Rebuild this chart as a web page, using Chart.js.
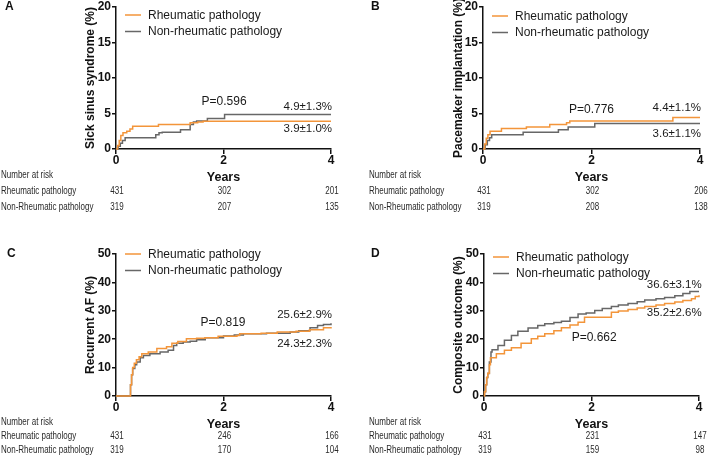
<!DOCTYPE html>
<html>
<head>
<meta charset="utf-8">
<script src="https://cdn.jsdelivr.net/npm/chart.js@4.4.1/dist/chart.umd.min.js"></script>
<style>
  body { margin: 0; background: #fff; width: 709px; height: 456px; position: relative; overflow: hidden; }
  canvas { position: absolute; }
</style>
</head>
<body>
<canvas id="chartA" width="350" height="215" style="left:0;top:0"></canvas>
<canvas id="chartB" width="359" height="215" style="left:350px;top:0"></canvas>
<canvas id="chartC" width="350" height="209" style="left:0;top:247px"></canvas>
<canvas id="chartD" width="359" height="209" style="left:350px;top:247px"></canvas>
<script>
// legend / risk table labels
const legendLabels = ["Rheumatic pathology", "Non-rheumatic pathology"];
const riskRowLabels = ["Rheumatic pathology", "Non-Rheumatic pathology"];
const riskHeader = "Number at risk";
const riskYears = [0, 2, 4];

// A - sick sinus syndrome
const sssTimeRheum = [0, 0.03, 0.06, 0.09, 0.13, 0.2, 0.26, 0.31, 0.79, 1.38, 1.52, 1.62, 4];
const sssRheum     = [0, 0.5, 1.2, 1.9, 2.3, 2.5, 2.8, 3.2, 3.45, 3.7, 3.8, 3.9, 3.9];
const sssTimeNon   = [0, 0.04, 0.08, 0.12, 0.17, 0.74, 0.8, 0.86, 1.2, 1.38, 1.44, 1.5, 1.7, 2.02, 4];
const sssNon       = [0, 0.4, 0.8, 1.2, 1.6, 2.0, 2.3, 2.35, 2.7, 3.45, 3.8, 3.95, 4.3, 4.85, 4.85];
const riskRheumA = [431, 302, 201];
const riskNonA   = [319, 207, 135];

// B - pacemaker implantation
const pmTimeRheum = [0, 0.03, 0.06, 0.09, 0.13, 0.34, 0.8, 1.23, 1.54, 1.6, 3.5, 4];
const pmRheum     = [0, 0.7, 1.5, 2.0, 2.5, 2.9, 3.1, 3.45, 3.7, 3.95, 4.45, 4.45];
const pmTimeNon   = [0, 0.04, 0.08, 0.12, 0.16, 0.74, 1.39, 1.57, 2.06, 4];
const pmNon       = [0, 0.6, 1.2, 1.6, 2.0, 2.35, 2.7, 3.1, 3.6, 3.6];
const riskRheumB = [431, 302, 206];
const riskNonB   = [319, 208, 138];

// C - recurrent AF
const afTimeRheum = [0, 0.25, 0.27, 0.29, 0.31, 0.34, 0.38, 0.43, 0.48, 0.6, 0.76, 0.94, 1.04, 1.15, 1.31, 1.5, 1.66, 1.9, 2.25, 2.3, 2.7, 3.0, 3.35, 3.6, 3.86, 4];
const afRheum     = [0, 0, 4, 7.5, 10, 11.5, 12.8, 13.8, 14.9, 15.5, 16.7, 17.3, 18.6, 19.2, 20.2, 20.3, 20.5, 21.0, 21.3, 21.9, 22.1, 22.5, 22.8, 23.3, 24.0, 24.3];
const afTimeNon   = [0, 0.25, 0.27, 0.29, 0.31, 0.35, 0.385, 0.45, 0.51, 0.63, 0.82, 0.97, 1.07, 1.13, 1.25, 1.38, 1.5, 1.66, 2.0, 2.2, 2.37, 2.8, 3.24, 3.4, 3.61, 3.75, 3.86, 4];
const afNon       = [0, 0, 4, 7.5, 9.7, 11, 12, 13.5, 14.3, 14.9, 15.5, 16.1, 17.8, 18.6, 19.0, 19.3, 19.8, 20.5, 21.1, 21.5, 21.9, 22.1, 22.5, 23.0, 24.0, 24.8, 25.2, 25.6];
const riskRheumC = [431, 246, 166];
const riskNonC   = [319, 170, 104];

// D - composite outcome
const coTimeRheum = [0, 0.01, 0.03, 0.05, 0.07, 0.1, 0.12, 0.23, 0.38, 0.51, 0.69, 0.88, 1.0, 1.13, 1.3, 1.44, 1.6, 1.75, 1.87, 2.24, 2.37, 2.5, 2.68, 2.85, 2.99, 3.2, 3.36, 3.55, 3.7, 3.86, 3.93, 4];
const coRheum     = [0, 1.5, 4, 6.5, 8, 11, 13.5, 14.9, 16.1, 17, 18.6, 20.2, 21, 21.9, 23, 24, 25, 26, 27.7, 27.7, 29.5, 29.9, 30.5, 31, 31.5, 32, 32.6, 33.1, 33.6, 34.2, 35.0, 35.5];
const coTimeNon   = [0, 0.01, 0.03, 0.05, 0.07, 0.1, 0.13, 0.15, 0.26, 0.38, 0.51, 0.63, 0.82, 1.0, 1.13, 1.3, 1.44, 1.6, 1.75, 1.9, 2.06, 2.2, 2.37, 2.5, 2.68, 2.85, 2.99, 3.2, 3.36, 3.55, 3.7, 3.83, 4];
const coNon       = [0, 1.5, 4, 6.5, 7.9, 12, 15.5, 16.3, 17.8, 19.6, 21.3, 22.8, 23.9, 24.8, 25.4, 25.9, 26.3, 27.6, 28.9, 29.2, 30.1, 30.8, 31.5, 32.0, 32.6, 33.2, 33.8, 34.2, 34.7, 35.3, 36.1, 36.8, 36.8];
const riskRheumD = [431, 231, 147];
const riskNonD   = [319, 159, 98];

const FONT = "'Liberation Sans', Arial, sans-serif";
const ORANGE = "#f3953a";
const GREY = "#676767";
Chart.defaults.font.family = FONT;
Chart.defaults.color = "#1a1a1a";

function serie(t, v) {
    return t.map((x, i) => ({ x: x, y: v[i] }));
}

// legend, p-values, panel letter and number-at-risk table
const kmExtras = {
    id: "kmExtras",
    afterDraw(chart) {
        const p = chart.options.plugins.kmExtras;
        const ctx = chart.ctx;
        const xs = chart.scales.x;
        const ys = chart.scales.y;
        const area = chart.chartArea;
        ctx.save();
        ctx.textBaseline = "middle";

        ctx.fillStyle = "#111";
        ctx.font = "bold 12px " + FONT;
        ctx.textAlign = "left";
        ctx.fillText(p.letter, p.letterX, area.top);

        // legend
        ctx.font = "12px " + FONT;
        chart.data.datasets.forEach((ds, i) => {
            const y = area.top + p.legendDy + i * 16.5;
            ctx.strokeStyle = ds.borderColor;
            ctx.lineWidth = 1.5;
            ctx.beginPath();
            ctx.moveTo(area.left + 9, y);
            ctx.lineTo(area.left + 25, y);
            ctx.stroke();
            ctx.fillStyle = "#1a1a1a";
            ctx.fillText(ds.label, area.left + 32, y + 0.5);
        });

        // annotations
        p.notes.forEach(n => {
            ctx.font = n.size + "px " + FONT;
            ctx.textAlign = n.align;
            ctx.fillStyle = "#1a1a1a";
            ctx.fillText(n.text, xs.getPixelForValue(n.x), ys.getPixelForValue(n.y));
        });

        // number at risk
        ctx.fillStyle = "#2a2a2a";
        ctx.font = "10px " + FONT;
        const rows = [[riskHeader, []], [riskRowLabels[0], p.risk[0]], [riskRowLabels[1], p.risk[1]]];
        rows.forEach((row, r) => {
            const y = p.rowY[r];
            ctx.save();
            ctx.translate(p.riskX, y);
            ctx.scale(0.8, 1);
            ctx.textAlign = "left";
            ctx.fillText(row[0], 0, 0);
            ctx.restore();
            row[1].forEach((num, k) => {
                ctx.save();
                ctx.translate(xs.getPixelForValue(riskYears[k]) + 1, y);
                ctx.scale(0.8, 1);
                ctx.textAlign = "center";
                ctx.fillText(String(num), 0, 0);
                ctx.restore();
            });
        });
        ctx.restore();
    }
};

function makePanel(id, cfg) {
    const ctx = document.getElementById(id).getContext("2d");
    return new Chart(ctx, {
        type: "line",
        data: {
            datasets: [
                { label: legendLabels[0], data: serie(cfg.tR, cfg.vR), borderColor: ORANGE },
                { label: legendLabels[1], data: serie(cfg.tN, cfg.vN), borderColor: GREY }
            ]
        },
        options: {
            responsive: false,
            animation: false,
            layout: { padding: { left: cfg.padLeft, right: cfg.padRight, top: 6, bottom: cfg.padBottom } },
            elements: {
                line: { borderWidth: 1.5, stepped: "before", tension: 0 },
                point: { radius: 0 }
            },
            datasets: { line: { clip: 3 } },
            plugins: {
                legend: { display: false },
                tooltip: { enabled: false },
                kmExtras: cfg.extras
            },
            scales: {
                x: {
                    type: "linear",
                    min: 0, max: 4,
                    afterFit: s => { s.height = 40; },
                    ticks: { stepSize: 2, padding: 1, color: "#111", font: { size: 12, weight: "bold", lineHeight: 1 } },
                    grid: { drawOnChartArea: false, drawTicks: true, tickLength: 5, color: "#111", lineWidth: 1.5 },
                    border: { display: true, color: "#111", width: 1.5 },
                    title: { display: true, text: "Years", color: "#111", font: { size: 12.5, weight: "bold" }, padding: { top: 0, bottom: 4 } }
                },
                y: {
                    min: 0, max: cfg.yMax,
                    afterFit: s => { s.width = cfg.yWidth; },
                    ticks: { stepSize: cfg.yStep, padding: 1, color: "#111", font: { size: 12, weight: "bold", lineHeight: 1 } },
                    grid: { drawOnChartArea: false, drawTicks: true, tickLength: 4, color: "#111", lineWidth: 1.5 },
                    border: { display: true, color: "#111", width: 1.5 },
                    title: { display: true, text: cfg.yTitle, color: "#111", font: { size: 12, weight: "bold" }, padding: { top: 7, bottom: 0 } }
                }
            }
        },
        plugins: [kmExtras]
    });
}

makePanel("chartA", {
    tR: sssTimeRheum, vR: sssRheum, tN: sssTimeNon, vN: sssNon,
    yMax: 20, yStep: 5, yTitle: "Sick sinus syndrome (%)",
    padLeft: 76, yWidth: 40, padRight: 19, padBottom: 26,
    extras: {
        letter: "A", letterX: 5, legendDy: 8,
        riskX: 1, rowY: [175, 191.5, 207], risk: [riskRheumA, riskNonA],
        notes: [
            { text: "P=0.596", x: 2.01, y: 6.7, align: "center", size: 12 },
            { text: "4.9±1.3%", x: 4.02, y: 5.9, align: "right", size: 11.5 },
            { text: "3.9±1.0%", x: 4.02, y: 2.8, align: "right", size: 11.5 }
        ]
    }
});

makePanel("chartB", {
    tR: pmTimeRheum, vR: pmRheum, tN: pmTimeNon, vN: pmNon,
    yMax: 20, yStep: 5, yTitle: "Pacemaker implantation (%)",
    padLeft: 94, yWidth: 39, padRight: 9, padBottom: 26,
    extras: {
        letter: "B", letterX: 21, legendDy: 9,
        riskX: 19, rowY: [175, 191.5, 207], risk: [riskRheumB, riskNonB],
        notes: [
            { text: "P=0.776", x: 2.0, y: 5.5, align: "center", size: 12 },
            { text: "4.4±1.1%", x: 4.02, y: 5.8, align: "right", size: 11.5 },
            { text: "3.6±1.1%", x: 4.02, y: 2.2, align: "right", size: 11.5 }
        ]
    }
});

makePanel("chartC", {
    tR: afTimeRheum, vR: afRheum, tN: afTimeNon, vN: afNon,
    yMax: 50, yStep: 10, yTitle: "Recurrent AF (%)",
    padLeft: 76, yWidth: 40, padRight: 19, padBottom: 20,
    extras: {
        letter: "C", letterX: 7, legendDy: 0,
        riskX: 1, rowY: [175.5, 189.5, 203], risk: [riskRheumC, riskNonC],
        notes: [
            { text: "P=0.819", x: 1.99, y: 25.9, align: "center", size: 12 },
            { text: "25.6±2.9%", x: 4.02, y: 28.7, align: "right", size: 11.5 },
            { text: "24.3±2.3%", x: 4.02, y: 18.5, align: "right", size: 11.5 }
        ]
    }
});

makePanel("chartD", {
    tR: coTimeRheum, vR: coRheum, tN: coTimeNon, vN: coNon,
    yMax: 50, yStep: 10, yTitle: "Composite outcome (%)",
    padLeft: 94, yWidth: 40, padRight: 10, padBottom: 20,
    extras: {
        letter: "D", letterX: 21, legendDy: 3,
        riskX: 19, rowY: [175.5, 189.5, 203], risk: [riskRheumD, riskNonD],
        notes: [
            { text: "P=0.662", x: 2.05, y: 20.6, align: "center", size: 12 },
            { text: "36.6±3.1%", x: 4.05, y: 39.2, align: "right", size: 11.5 },
            { text: "35.2±2.6%", x: 4.05, y: 29.4, align: "right", size: 11.5 }
        ]
    }
});
</script>
</body>
</html>
